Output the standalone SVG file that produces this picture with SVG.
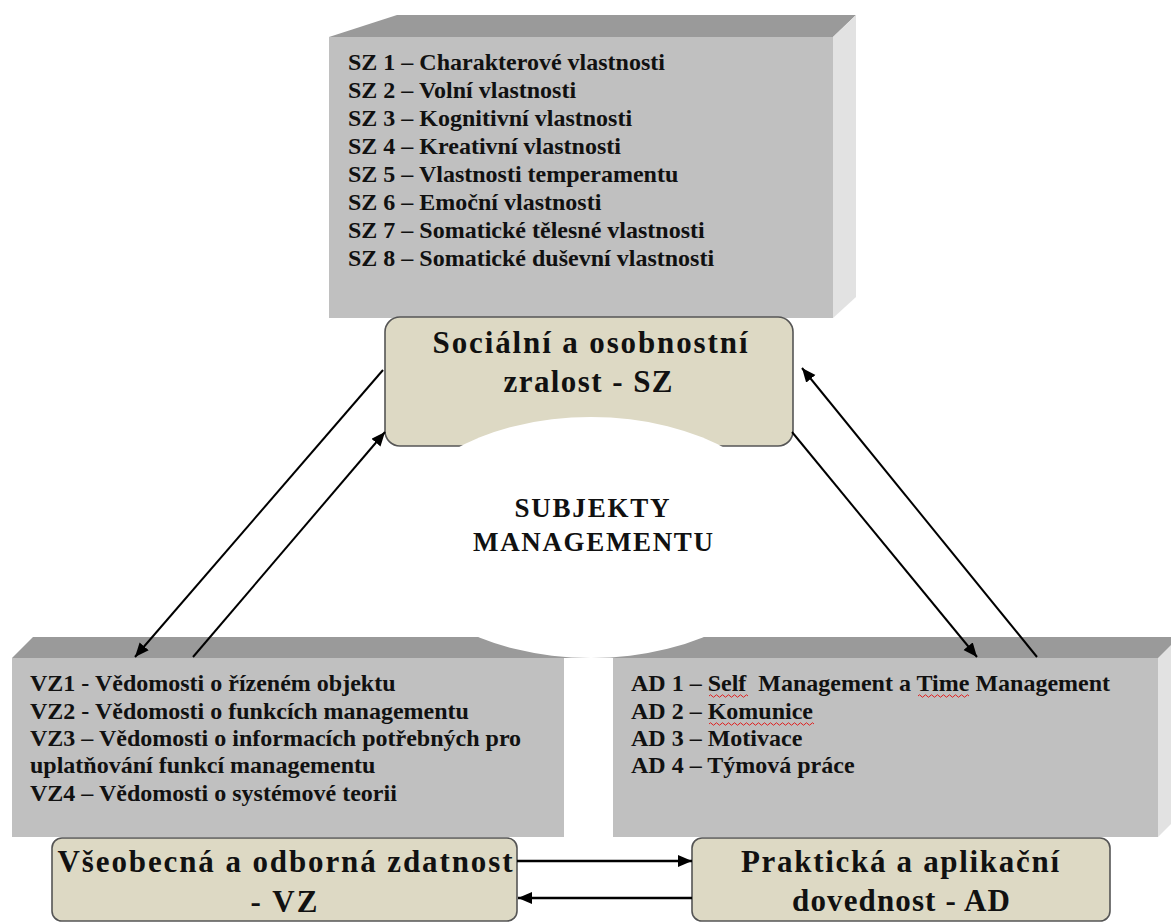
<svg xmlns="http://www.w3.org/2000/svg" width="1171" height="922" viewBox="0 0 1171 922">
<style>
.front{fill:#c0c0c0}
.topf{fill:#9a9a9a}
.side{fill:#e2e2e2}
.item{font-family:"Liberation Serif","Times New Roman",serif;font-weight:bold;font-size:24px;fill:#111}
.node{fill:#ddd9c4;stroke:#555;stroke-width:1.6}
.lbl{font-family:"Liberation Serif","Times New Roman",serif;font-weight:bold;font-size:31px;fill:#111;text-anchor:middle}
.center{font-family:"Liberation Serif","Times New Roman",serif;font-weight:bold;font-size:27px;fill:#111;text-anchor:middle}
.conn{stroke:#000;stroke-width:2;fill:none}
.conn2{stroke:#000;stroke-width:2.6;fill:none}
.squig{stroke:#e02020;stroke-width:1;fill:none}
</style>
<defs>
<marker id="ah" markerUnits="userSpaceOnUse" markerWidth="16" markerHeight="14" refX="14" refY="6" orient="auto">
<path d="M0,0 L14,6 L0,12 Z" fill="#000"/>
</marker>
</defs>

<g id="box-sz">
<polygon class="topf" points="329,37 397,15 856,15 833,37"/>
<polygon class="side" points="833,37 856,15 856,297 833,318"/>
<rect class="front" x="329" y="37" width="504" height="281"/>
<text class="item" x="348" y="70">SZ 1 – Charakterové vlastnosti</text>
<text class="item" x="348" y="98">SZ 2 – Volní vlastnosti</text>
<text class="item" x="348" y="126">SZ 3 – Kognitivní vlastnosti</text>
<text class="item" x="348" y="154">SZ 4 – Kreativní vlastnosti</text>
<text class="item" x="348" y="182">SZ 5 – Vlastnosti temperamentu</text>
<text class="item" x="348" y="210">SZ 6 – Emoční vlastnosti</text>
<text class="item" x="348" y="238">SZ 7 – Somatické tělesné vlastnosti</text>
<text class="item" x="348" y="266">SZ 8 – Somatické duševní vlastnosti</text>
</g>

<g id="box-vz">
<polygon class="topf" points="12,658 33,637 600,637 600,658"/>
<rect class="front" x="12" y="658" width="552" height="179"/>
<text class="item" x="30" y="691">VZ1 - Vědomosti o řízeném objektu</text>
<text class="item" x="30" y="719">VZ2 - Vědomosti o funkcích managementu</text>
<text class="item" x="30" y="746">VZ3 – Vědomosti o informacích potřebných pro</text>
<text class="item" x="30" y="773">uplatňování funkcí managementu</text>
<text class="item" x="30" y="801">VZ4 – Vědomosti o systémové teorii</text>
</g>

<g id="box-ad">
<polygon class="topf" points="580,658 580,637 1192,637 1171,658"/>
<polygon class="side" points="1158,658 1179,637 1179,816 1158,837"/>
<rect class="front" x="613" y="658" width="545" height="179"/>
<text class="item" x="631" y="691" xml:space="preserve">AD 1 – Self  Management a Time Management</text>
<text class="item" x="631" y="719">AD 2 – Komunice</text>
<text class="item" x="631" y="746">AD 3 – Motivace</text>
<text class="item" x="631" y="773">AD 4 – Týmová práce</text>
<path class="squig" d="M709,696 q1.5,-2.5 3,0 t3,0 t3,0 t3,0 t3,0 t3,0 t3,0 t3,0 t3,0 t3,0 t3,0 t3,0 t3,0"/>
<path class="squig" d="M918,696 q1.5,-2.5 3,0 t3,0 t3,0 t3,0 t3,0 t3,0 t3,0 t3,0 t3,0 t3,0 t3,0 t3,0 t3,0 t3,0 t3,0 t3,0 t3,0"/>
<path class="squig" d="M709,724 q1.5,-2.5 3,0 t3,0 t3,0 t3,0 t3,0 t3,0 t3,0 t3,0 t3,0 t3,0 t3,0 t3,0 t3,0 t3,0 t3,0 t3,0 t3,0 t3,0 t3,0 t3,0 t3,0 t3,0 t3,0 t3,0 t3,0 t3,0 t3,0 t3,0 t3,0 t3,0 t3,0 t3,0 t3,0 t3,0 t3,0"/>
</g>

<g id="node-sz">
<rect class="node" x="385" y="317" width="408" height="129" rx="15"/>
</g>

<g id="center-subjekty">
<ellipse cx="591" cy="537.5" rx="200" ry="120.5" fill="#fff"/>
<text class="center" x="592" y="517" textLength="155" lengthAdjust="spacing">SUBJEKTY</text>
<text class="center" x="593" y="551" textLength="240" lengthAdjust="spacing">MANAGEMENTU</text>
</g>

<g id="node-sz-label">
<text class="lbl" x="590" y="353" textLength="315" lengthAdjust="spacing">Sociální a osobnostní</text>
<text class="lbl" x="588" y="392" textLength="169" lengthAdjust="spacing">zralost - SZ</text>
</g>

<g id="node-vz">
<rect class="node" x="52" y="838" width="465" height="83" rx="10"/>
<text class="lbl" x="285" y="872" textLength="455" lengthAdjust="spacing">Všeobecná a odborná zdatnost</text>
<text class="lbl" x="284" y="912" textLength="67" lengthAdjust="spacing">- VZ</text>
</g>

<g id="node-ad">
<rect class="node" x="692" y="838" width="418" height="83" rx="10"/>
<text class="lbl" x="900" y="872" textLength="318" lengthAdjust="spacing">Praktická a aplikační</text>
<text class="lbl" x="901" y="911" textLength="218" lengthAdjust="spacing">dovednost - AD</text>
</g>

<g id="connectors">
<path class="conn" d="M383,370 L135,657" marker-end="url(#ah)"/>
<path class="conn" d="M193,657 L385,432" marker-end="url(#ah)"/>
<path class="conn" d="M792,432 L977,657" marker-end="url(#ah)"/>
<path class="conn" d="M1037,657 L802,368" marker-end="url(#ah)"/>
<path class="conn2" d="M517,861 L692,861" marker-end="url(#ah)"/>
<path class="conn2" d="M692,898 L518,898" marker-end="url(#ah)"/>
</g>
</svg>
